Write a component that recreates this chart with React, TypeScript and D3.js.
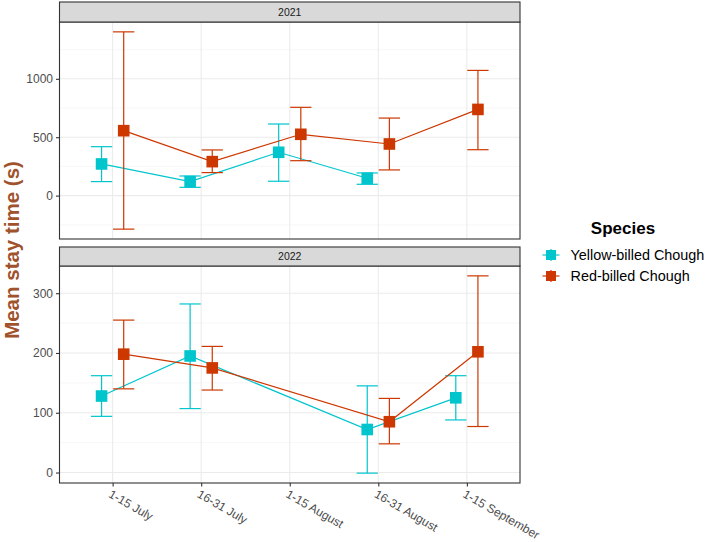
import { useEffect, useRef } from 'react'
import * as d3 from 'd3'

const periods = ['1-15 July', '16-31 July', '1-15 August', '16-31 August', '1-15 September']
const species = ['Yellow-billed Chough', 'Red-billed Chough']
const speciesColors = ['#00C5CD', '#CD3700']

// 2021 panel (null = no observation)
const yellow2021Mean = [271, 120, 371, 149, null]
const yellow2021Low = [120, 71, 123, 97, null]
const yellow2021High = [419, 168, 613, 194, null]
const red2021Mean = [556, 291, 525, 442, 738]
const red2021Low = [-287, 197, 299, 220, 393]
const red2021High = [1402, 391, 756, 664, 1072]

// 2022 panel
const yellow2022Mean = [128, 195, null, 72, 125]
const yellow2022Low = [94, 107, null, -1, 88]
const yellow2022High = [162, 282, null, 145, 162]
const red2022Mean = [198, 175, null, 85, 202]
const red2022Low = [140, 138, null, 48, 77]
const red2022High = [255, 211, null, 124, 329]

const ticks2021 = [0, 500, 1000]
const ticks2022 = [0, 100, 200, 300]

interface Pt {
  period: string
  mean: number
  low: number
  high: number
}

const toPoints = (mean: (number | null)[], low: (number | null)[], high: (number | null)[]): Pt[] =>
  periods
    .map((p, i) => ({ period: p, mean: mean[i], low: low[i], high: high[i] }))
    .filter((d) => d.mean !== null) as Pt[]

const FONT = '"Liberation Sans", Arial, sans-serif'

const ChoughChart = () => {
  const svgRef = useRef<SVGSVGElement>(null)

  useEffect(() => {
    if (!svgRef.current) return
    const svg = d3.select(svgRef.current)
    svg.selectAll('*').remove()

    const left = 59.5
    const right = 520
    const panels = [
      {
        year: '2021',
        stripTop: 2,
        top: 22,
        bottom: 239,
        ticks: ticks2021,
        series: [
          toPoints(yellow2021Mean, yellow2021Low, yellow2021High),
          toPoints(red2021Mean, red2021Low, red2021High),
        ],
      },
      {
        year: '2022',
        stripTop: 247,
        top: 266,
        bottom: 483,
        ticks: ticks2022,
        series: [
          toPoints(yellow2022Mean, yellow2022Low, yellow2022High),
          toPoints(red2022Mean, red2022Low, red2022High),
        ],
      },
    ]

    const x = d3.scalePoint<string>().domain(periods).range([left, right]).padding(0.6)
    const step = x.step()
    const dodge = [-0.125 * step, 0.125 * step]
    const capHalf = 0.12 * step

    panels.forEach((panel, pi) => {
      const all = panel.series.flat()
      const lo = d3.min(all, (d) => d.low) as number
      const hi = d3.max(all, (d) => d.high) as number
      const pad = (hi - lo) * 0.05
      const y = d3
        .scaleLinear()
        .domain([lo - pad, hi + pad])
        .range([panel.bottom, panel.top])

      const g = svg.append('g')

      // panel background
      g.append('rect')
        .attr('x', left)
        .attr('y', panel.top)
        .attr('width', right - left)
        .attr('height', panel.bottom - panel.top)
        .attr('fill', 'white')

      // minor grid
      const major = panel.ticks
      const mstep = major[1] - major[0]
      const minor = d3
        .range(Math.ceil((lo - pad) / (mstep / 2)), Math.floor((hi + pad) / (mstep / 2)) + 1)
        .map((k) => (k * mstep) / 2)
        .filter((v) => !major.includes(v))
      g.selectAll('line.minor')
        .data(minor)
        .enter()
        .append('line')
        .attr('x1', left)
        .attr('x2', right)
        .attr('y1', (d) => y(d))
        .attr('y2', (d) => y(d))
        .attr('stroke', '#F2F2F2')
        .attr('stroke-width', 0.6)

      g.selectAll('line.majy')
        .data(major)
        .enter()
        .append('line')
        .attr('x1', left)
        .attr('x2', right)
        .attr('y1', (d) => y(d))
        .attr('y2', (d) => y(d))
        .attr('stroke', '#EBEBEB')
        .attr('stroke-width', 1.1)

      g.selectAll('line.majx')
        .data(periods)
        .enter()
        .append('line')
        .attr('x1', (d) => x(d) as number)
        .attr('x2', (d) => x(d) as number)
        .attr('y1', panel.top)
        .attr('y2', panel.bottom)
        .attr('stroke', '#EBEBEB')
        .attr('stroke-width', 1.1)

      // series
      panel.series.forEach((pts, si) => {
        const color = speciesColors[si]
        const px = (d: Pt) => (x(d.period) as number) + dodge[si]
        const line = d3
          .line<Pt>()
          .x(px)
          .y((d) => y(d.mean))
        g.append('path')
          .datum(pts)
          .attr('fill', 'none')
          .attr('stroke', color)
          .attr('stroke-width', 1.2)
          .attr('d', line)

        const eb = g.append('g').attr('stroke', color).attr('stroke-width', 1.2).attr('fill', 'none')
        pts.forEach((d) => {
          const cx = px(d)
          eb.append('line').attr('x1', cx).attr('x2', cx).attr('y1', y(d.low)).attr('y2', y(d.high))
          eb.append('line')
            .attr('x1', cx - capHalf)
            .attr('x2', cx + capHalf)
            .attr('y1', y(d.low))
            .attr('y2', y(d.low))
          eb.append('line')
            .attr('x1', cx - capHalf)
            .attr('x2', cx + capHalf)
            .attr('y1', y(d.high))
            .attr('y2', y(d.high))
        })

        g.selectAll(`rect.pt${si}`)
          .data(pts)
          .enter()
          .append('rect')
          .attr('x', (d) => px(d) - 5.8)
          .attr('y', (d) => y(d.mean) - 5.8)
          .attr('width', 11.6)
          .attr('height', 11.6)
          .attr('fill', color)
      })

      // panel border
      g.append('rect')
        .attr('x', left)
        .attr('y', panel.top)
        .attr('width', right - left)
        .attr('height', panel.bottom - panel.top)
        .attr('fill', 'none')
        .attr('stroke', '#333333')
        .attr('stroke-width', 1.1)

      // strip
      g.append('rect')
        .attr('x', left)
        .attr('y', panel.stripTop)
        .attr('width', right - left)
        .attr('height', panel.top - panel.stripTop)
        .attr('fill', '#D9D9D9')
        .attr('stroke', '#333333')
        .attr('stroke-width', 1.1)
      g.append('text')
        .attr('x', (left + right) / 2)
        .attr('y', (panel.stripTop + panel.top) / 2)
        .attr('dy', '0.35em')
        .attr('text-anchor', 'middle')
        .attr('fill', '#1A1A1A')
        .style('font-family', FONT)
        .style('font-size', '10.5px')
        .text(panel.year)

      // y axis
      const yAxis = g
        .append('g')
        .attr('transform', `translate(${left},0)`)
        .call(d3.axisLeft(y).tickValues(major).tickSize(3.5).tickPadding(3).tickFormat(d3.format('d')))
      yAxis.select('.domain').remove()
      yAxis.selectAll('line').attr('stroke', '#333333').attr('stroke-width', 1.1)
      yAxis
        .selectAll('text')
        .attr('fill', '#4D4D4D')
        .style('font-family', FONT)
        .style('font-size', '12px')

      // x axis only on bottom panel
      if (pi === panels.length - 1) {
        const xAxis = g
          .append('g')
          .attr('transform', `translate(0,${panel.bottom})`)
          .call(d3.axisBottom(x).tickSize(3.5).tickSizeOuter(0))
        xAxis.select('.domain').remove()
        xAxis.selectAll('line').attr('stroke', '#333333').attr('stroke-width', 1.1)
        xAxis
          .selectAll('text')
          .attr('fill', '#4D4D4D')
          .attr('text-anchor', 'start')
          .attr('x', 0)
          .attr('y', 0)
          .attr('dy', '0.72em')
          .attr('transform', 'translate(-1,6) rotate(30)')
          .style('font-family', FONT)
          .style('font-size', '12px')
      }
    })

    // y title
    svg
      .append('text')
      .attr('transform', 'translate(19,250) rotate(-90)')
      .attr('text-anchor', 'middle')
      .attr('fill', '#A0522D')
      .style('font-family', FONT)
      .style('font-size', '20.5px')
      .style('font-weight', 'bold')
      .text('Mean stay time (s)')

    // legend
    const legend = svg.append('g').attr('transform', 'translate(551,0)')
    legend
      .append('text')
      .attr('x', 72)
      .attr('y', 234)
      .attr('text-anchor', 'middle')
      .attr('fill', 'black')
      .style('font-family', FONT)
      .style('font-size', '17px')
      .style('font-weight', 'bold')
      .text('Species')

    species.forEach((name, i) => {
      const cy = 255 + i * 21
      const color = speciesColors[i]
      legend
        .append('line')
        .attr('x1', -8.5)
        .attr('x2', 8.5)
        .attr('y1', cy)
        .attr('y2', cy)
        .attr('stroke', color)
        .attr('stroke-width', 1.2)
      legend
        .append('line')
        .attr('x1', 0)
        .attr('x2', 0)
        .attr('y1', cy - 6)
        .attr('y2', cy + 6)
        .attr('stroke', color)
        .attr('stroke-width', 1.2)
      legend
        .append('rect')
        .attr('x', -5)
        .attr('y', cy - 5)
        .attr('width', 10)
        .attr('height', 10)
        .attr('fill', color)
      legend
        .append('text')
        .attr('x', 19.5)
        .attr('y', cy)
        .attr('dy', '0.35em')
        .attr('fill', 'black')
        .style('font-family', FONT)
        .style('font-size', '14.4px')
        .text(name)
    })
  }, [])

  return (
    <svg
      ref={svgRef}
      width={707}
      height={542}
      style={{ position: 'absolute', left: 0, top: 0, background: 'white' }}
    />
  )
}

export default function App() {
  return <ChoughChart />
}
